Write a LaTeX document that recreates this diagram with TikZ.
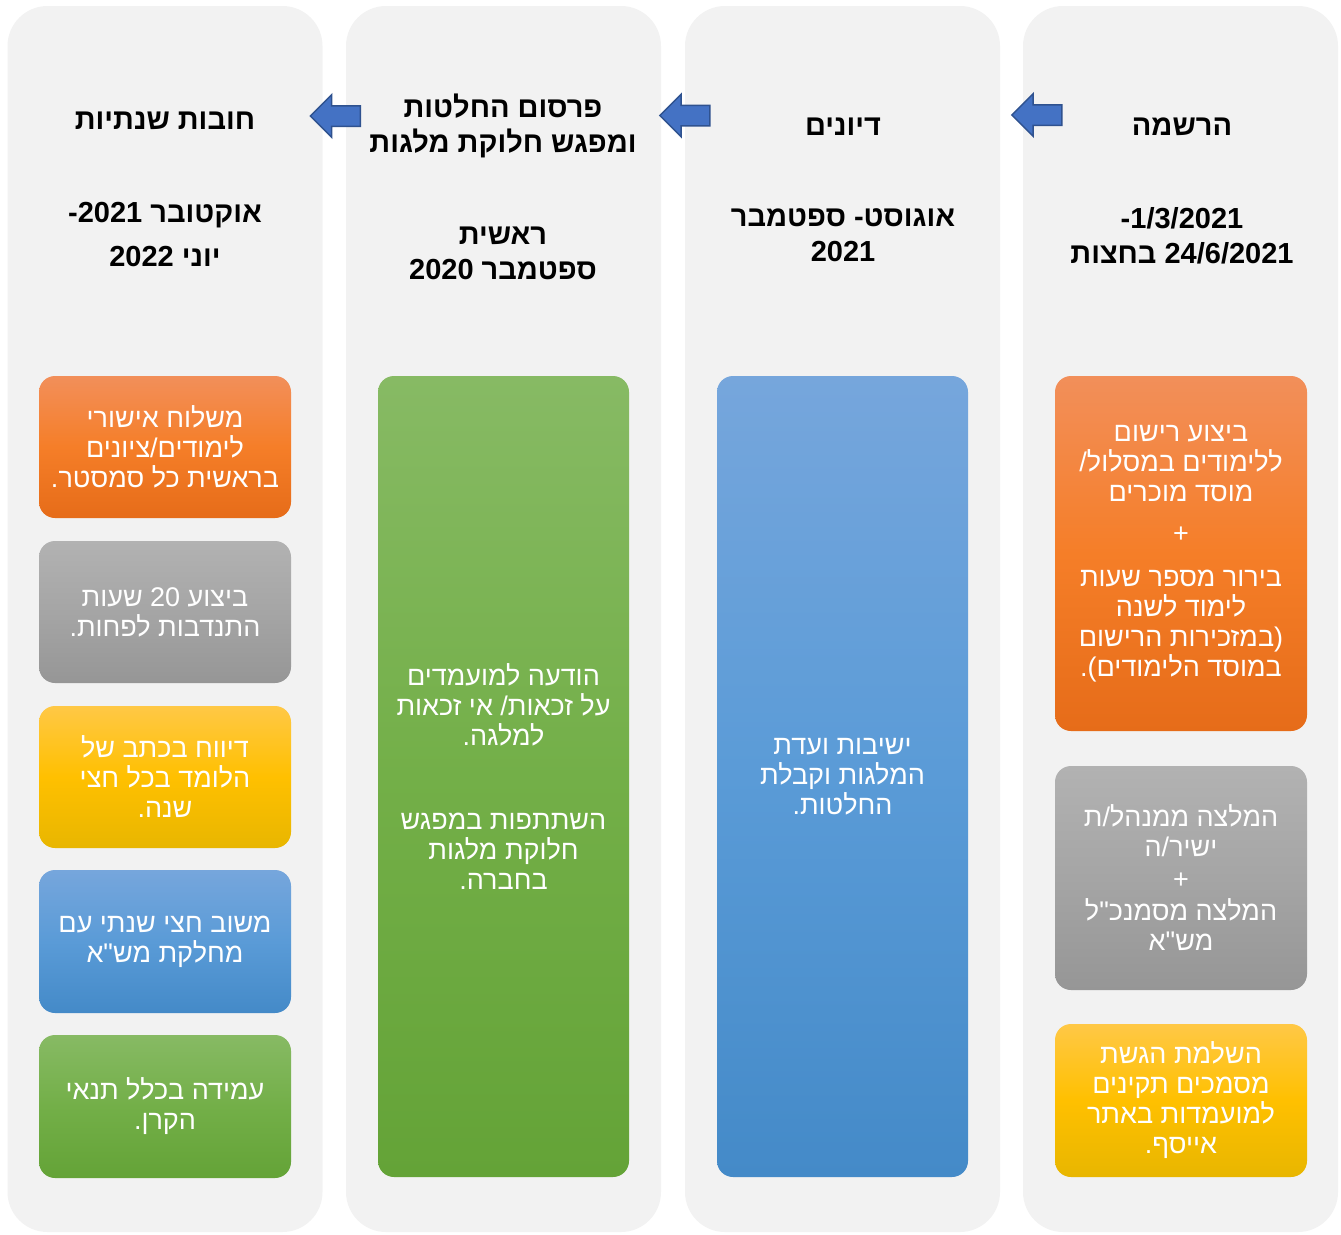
\documentclass[tikz,border=0pt]{standalone}
\usepackage{fontspec}
\newfontfamily\hebfont[Script=Hebrew]{Liberation Sans}
\TeXXeTstate=1
\usetikzlibrary{shapes.arrows}
\definecolor{lanegrey}{RGB}{242,242,242}
\definecolor{arrowblue}{RGB}{68,114,196}
\definecolor{arrowedge}{RGB}{47,82,143}
\definecolor{orangetop}{RGB}{242,143,90}
\definecolor{orangemid}{RGB}{245,126,40}
\definecolor{orangebot}{RGB}{230,108,25}
\definecolor{greytop}{RGB}{178,178,178}
\definecolor{greymid}{RGB}{165,165,165}
\definecolor{greybot}{RGB}{150,150,150}
\definecolor{yellowtop}{RGB}{255,200,70}
\definecolor{yellowmid}{RGB}{255,192,0}
\definecolor{yellowbot}{RGB}{232,182,0}
\definecolor{bluetop}{RGB}{118,166,220}
\definecolor{bluemid}{RGB}{90,155,215}
\definecolor{bluebot}{RGB}{68,138,200}
\definecolor{greentop}{RGB}{135,186,100}
\definecolor{greenmid}{RGB}{115,175,72}
\definecolor{greenbot}{RGB}{100,163,55}
\newcommand{\heb}[1]{\beginR #1\endR}

\begin{document}
\begin{tikzpicture}[x=1pt, y=-1pt,
    lane/.style={rectangle, fill=lanegrey, rounded corners=40pt,
        minimum width=315pt, minimum height=1226pt, inner sep=0pt},
    head/.style={align=center, font=\hebfont\bfseries\fontsize{29}{35}\selectfont},
    box/.style={rectangle, rounded corners=16pt, minimum width=252pt,
        inner sep=0pt, align=center, text=white,
        font=\hebfont\fontsize{27}{30}\selectfont},
    orangebox/.style={box, top color=orangetop, bottom color=orangebot, middle color=orangemid},
    greybox/.style={box, top color=greytop, bottom color=greybot, middle color=greymid},
    yellowbox/.style={box, top color=yellowtop, bottom color=yellowbot, middle color=yellowmid},
    bluebox/.style={box, top color=bluetop, bottom color=bluebot, middle color=bluemid},
    greenbox/.style={box, top color=greentop, bottom color=greenbot, middle color=greenmid},
    blockarrow/.style={single arrow, shape border rotate=180, draw=arrowedge,
        fill=arrowblue, line width=1.5pt, minimum height=50pt, minimum width=41pt,
        inner xsep=0pt, inner ysep=9.5pt, single arrow head extend=11pt}
]
    \useasboundingbox (0,0) rectangle (1341,1234);

    % lanes
    \node[lane] (lane1) at (165,619) {};
    \node[lane] (lane2) at (503.5,619) {};
    \node[lane] (lane3) at (842.5,619) {};
    \node[lane] (lane4) at (1180.5,619) {};

    \node[blockarrow] (arr43) at (1042,115) {};
    \node[blockarrow] (arr32) at (690,115.5) {};
    \node[blockarrow] (arr21) at (340.5,116) {};

    % headings
    \node[head] (title4) at (1182,127) {\heb{הרשמה}};
    \node[head] (date4) at (1182,235.5) {\heb{\beginL 1/3/2021\endL-}\\ \heb{\beginL 24/6/2021\endL{} בחצות}};
    \node[head] (title3) at (843,127) {\heb{דיונים}};
    \node[head] (date3) at (843,235.5) {\heb{אוגוסט- ספטמבר}\\ \heb{\beginL 2021\endL}};
    \node[head] (title2) at (503,125.5) {\heb{פרסום החלטות}\\ \heb{ומפגש חלוקת מלגות}};
    \node[head] (date2) at (503,253) {\heb{ראשית}\\ \heb{ספטמבר \beginL 2020\endL}};
    \node[head] (title1) at (165,121) {\heb{חובות שנתיות}};
    \node[head] (date1) at (165,235) {\heb{אוקטובר \beginL 2021\endL-}\\[9pt] \heb{יוני \beginL 2022\endL}};

    % registration
    \node[orangebox, minimum height=355pt] (reg) at (1181,553.5)
        {\heb{ביצוע רישום}\\ \heb{ללימודים במסלול/}\\ \heb{מוסד מוכרים}\\[11pt] +\\[14pt]
         \heb{בירור מספר שעות}\\ \heb{לימוד לשנה}\\ \heb{(במזכירות הרישום}\\ \heb{במוסד הלימודים).}};
    \node[greybox, minimum height=224pt] (rec) at (1181,878)
        {\heb{המלצה ממנהל/ת}\\ \heb{ישיר/ה}\\[2pt] +\\[2pt] \heb{המלצה מסמנכ"ל}\\ \heb{מש"א}};
    \node[yellowbox, minimum height=153pt] (docs) at (1181,1100.5)
        {\heb{השלמת הגשת}\\ \heb{מסמכים תקינים}\\ \heb{למועמדות באתר}\\ \heb{אייסף.}};

    % discussions
    \node[bluebox, minimum width=251pt, minimum height=801pt] (meet) at (842.5,776.5)
        {\heb{ישיבות ועדת}\\ \heb{המלגות וקבלת}\\ \heb{החלטות.}};

    % publication
    \node[greenbox, minimum width=251pt, minimum height=801pt] (publ) at (503.5,776.5)
        {\heb{הודעה למועמדים}\\ \heb{על זכאות/ אי זכאות}\\ \heb{למלגה.}\\[54pt]
         \heb{השתתפות במפגש}\\ \heb{חלוקת מלגות}\\ \heb{בחברה.}};

    % annual duties
    \node[orangebox, minimum height=142pt] (duty1) at (165,447)
        {\heb{משלוח אישורי}\\ \heb{לימודים/ציונים}\\ \heb{בראשית כל סמסטר.}};
    \node[greybox, minimum height=142pt] (duty2) at (165,612)
        {\heb{ביצוע \beginL 20\endL{} שעות}\\ \heb{התנדבות לפחות.}};
    \node[yellowbox, minimum height=142pt] (duty3) at (165,777)
        {\heb{דיווח בכתב של}\\ \heb{הלומד בכל חצי}\\ \heb{שנה.}};
    \node[bluebox, minimum height=143pt] (duty4) at (165,941.5)
        {\heb{משוב חצי שנתי עם}\\ \heb{מחלקת מש"א}};
    \node[greenbox, minimum height=143pt] (duty5) at (165,1106.5)
        {\heb{עמידה בכלל תנאי}\\ \heb{הקרן.}};
\end{tikzpicture}
\end{document}
